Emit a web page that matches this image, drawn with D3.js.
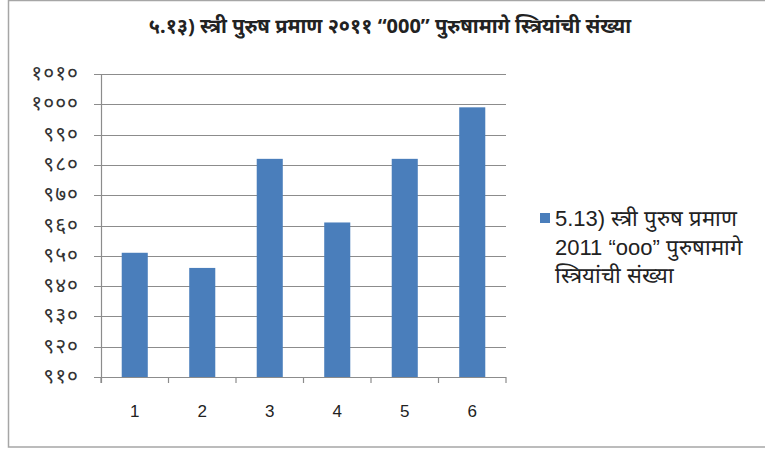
<!DOCTYPE html>
<html lang="mr">
<head>
    <meta charset="UTF-8">
    <title>Chart</title>
    <script src="https://d3js.org/d3.v7.min.js"></script>
    <style>
        body { margin: 0; background: #fff; }
        text { fill: #222; }
        .title { font-family: 'Noto Sans', sans-serif; font-size: 20px; font-weight: bold; text-anchor: middle; }
        .ylab { font-family: 'Noto Sans', sans-serif; font-size: 21px; text-anchor: end; fill: #333; letter-spacing: 1px; }
        .xlab { font-family: 'Liberation Sans', Arial, sans-serif; font-size: 17px; text-anchor: middle; }
        .legend { font-family: 'Liberation Sans', Arial, sans-serif; font-size: 22px; }
    </style>
</head>
<body>
<script>
    const width = 765;
    const height = 450;

    const title = "५.१३) स्त्री पुरुष प्रमाण २०११ “000” पुरुषामागे स्त्रियांची संख्या";
    const categories = ["1", "2", "3", "4", "5", "6"];
    const values = [951, 946, 982, 961, 982, 999];
    const yTicks = [910, 920, 930, 940, 950, 960, 970, 980, 990, 1000, 1010];
    const yTickLabels = ["९१०", "९२०", "९३०", "९४०", "९५०", "९६०", "९७०", "९८०", "९९०", "१०००", "१०१०"];
    const legendLines = ["5.13) स्त्री पुरुष प्रमाण", "2011 “ooo” पुरुषामागे", "स्त्रियांची संख्या"];

    const barColor = "#4a7ebb";
    const gridColor = "#8c8c8c";

    const svg = d3.select("body").append("svg").attr("width", width).attr("height", height);

    // outer frame
    svg.append("rect")
        .attr("x", 8.5).attr("y", 0.5)
        .attr("width", 770).attr("height", 446.5)
        .style("fill", "none").style("stroke", "#a6a6a6").style("stroke-width", 1.5);

    svg.append("text").attr("class", "title")
        .attr("x", 390).attr("y", 33)
        .text(title);

    const x = d3.scaleBand()
        .domain(categories)
        .range([101, 506])
        .paddingInner(0.614)
        .paddingOuter(0.307);

    const y = d3.scaleLinear()
        .domain([910, 1010])
        .range([377, 74]);

    const step = x.step();

    // gridlines
    svg.append("g").selectAll("line")
        .data(yTicks)
        .enter().append("line")
        .attr("x1", 94).attr("x2", 506)
        .attr("y1", d => Math.round(y(d)) + 0.5)
        .attr("y2", d => Math.round(y(d)) + 0.5)
        .style("stroke", gridColor).style("stroke-width", 1.2);

    // y axis line
    svg.append("line")
        .attr("x1", 101.5).attr("x2", 101.5)
        .attr("y1", y(1010)).attr("y2", y(910) + 6)
        .style("stroke", gridColor).style("stroke-width", 1.2);

    // category ticks
    const bounds = categories.map(c => x(c) + x.bandwidth() / 2 - step / 2);
    bounds.push(x.range()[1]);
    svg.append("g").selectAll("line")
        .data(bounds)
        .enter().append("line")
        .attr("x1", d => d).attr("x2", d => d)
        .attr("y1", y(910)).attr("y2", y(910) + 6)
        .style("stroke", gridColor).style("stroke-width", 1.2);

    svg.append("g").selectAll("text")
        .data(yTicks)
        .enter().append("text").attr("class", "ylab")
        .attr("x", 79)
        .attr("y", d => y(d) + 6)
        .text((d, i) => yTickLabels[i]);

    svg.append("g").selectAll("rect")
        .data(values)
        .enter().append("rect")
        .attr("x", (d, i) => x(categories[i]))
        .attr("y", d => y(d))
        .attr("width", x.bandwidth())
        .attr("height", d => y(910) - y(d))
        .style("fill", barColor);

    svg.append("g").selectAll("text")
        .data(categories)
        .enter().append("text").attr("class", "xlab")
        .attr("x", d => x(d) + x.bandwidth() / 2)
        .attr("y", 417)
        .text(d => d);

    // legend
    const legend = svg.append("g");
    legend.append("rect")
        .attr("x", 540).attr("y", 213)
        .attr("width", 10).attr("height", 10)
        .style("fill", barColor);
    legend.selectAll("text")
        .data(legendLines)
        .enter().append("text").attr("class", "legend")
        .attr("x", 555)
        .attr("y", (d, i) => 226 + i * 28.5)
        .text(d => d);
</script>
</body>
</html>
